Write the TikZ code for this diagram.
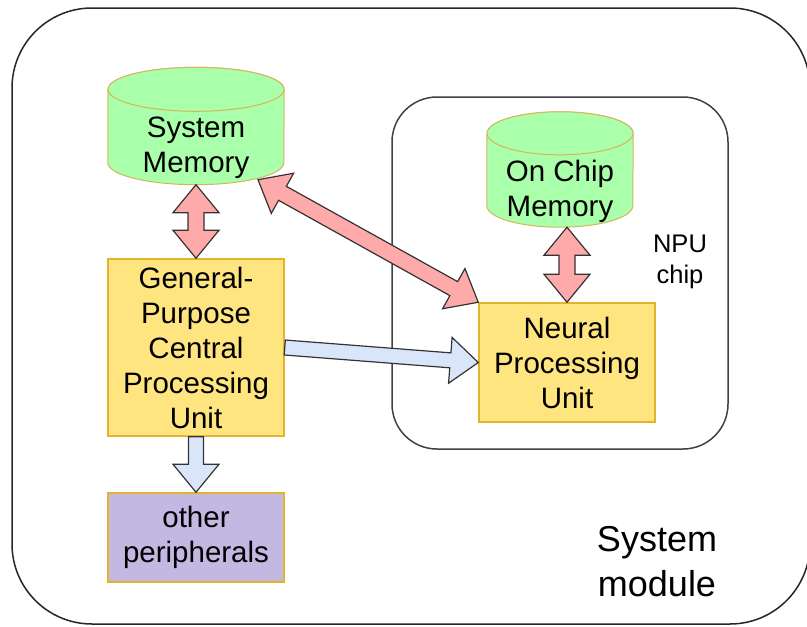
\documentclass[tikz,border=0pt]{standalone}
\usepackage{fontspec}
\setmainfont{Liberation Sans}
\usepackage{tikz}
\usetikzlibrary{positioning,calc,backgrounds}

\definecolor{memgreen}{HTML}{AAFFAA}
\definecolor{unityellow}{HTML}{FFE57F}
\definecolor{unitborder}{HTML}{E3B32A}
\definecolor{memborder}{HTML}{D9B45E}
\definecolor{periphpurple}{HTML}{C2B8E2}
\definecolor{linkpink}{HTML}{FFAAAA}
\definecolor{ctrlblue}{HTML}{D9E6FA}

% fat one-way arrow: style, from, to
\newcommand{\fatarrow}[3]{%
	\path ($(#3)!28pt!(#2)$) coordinate (hb);
	\draw[#1] ($(#2)!7.5pt!90:(#3)$) -- ($(hb)!7.5pt!-90:(#2)$) -- ($(hb)!23pt!-90:(#2)$) -- (#3)
		-- ($(hb)!23pt!90:(#2)$) -- ($(hb)!7.5pt!90:(#2)$) -- ($(#2)!7.5pt!-90:(#3)$) -- cycle;
}
% fat two-way arrow: style, from, to
\newcommand{\fatdoublearrow}[3]{%
	\path ($(#2)!28pt!(#3)$) coordinate (ha) ($(#3)!28pt!(#2)$) coordinate (hb);
	\draw[#1] (#2) -- ($(ha)!23pt!90:(#3)$) -- ($(ha)!8pt!90:(#3)$) -- ($(hb)!8pt!-90:(#2)$)
		-- ($(hb)!23pt!-90:(#2)$) -- (#3) -- ($(hb)!23pt!90:(#2)$) -- ($(hb)!8pt!90:(#2)$)
		-- ($(ha)!8pt!-90:(#3)$) -- ($(ha)!23pt!-90:(#3)$) -- cycle;
}
% drum behind a memory node: node, x radius, y radius
\newcommand{\drum}[3]{%
	\begin{scope}[on background layer]
		\draw[mem_drum] ($(#1.north west)+(0,-#3)$) -- ($(#1.south west)+(0,-#3)$)
			arc[start angle=180,end angle=0,x radius=#2,y radius=#3]
			-- ($(#1.north east)+(0,-#3)$)
			arc[start angle=0,end angle=-180,x radius=#2,y radius=#3] -- cycle;
		\draw[mem_drum] ($(#1.north)+(0,-#3)$) ellipse[x radius=#2,y radius=#3];
	\end{scope}
}

\begin{document}
\begin{tikzpicture}[x=1pt,y=-1pt,
		unit_box/.style={draw=unitborder,fill=unityellow,line width=1.5pt,align=center,inner sep=0pt,font=\fontsize{29.5}{35}\selectfont},
		mem_node/.style={align=center,inner sep=0pt,font=\fontsize{29.5}{35}\selectfont},
		mem_drum/.style={draw=memborder,fill=memgreen,line width=1pt},
		periph_box/.style={draw=unitborder,fill=periphpurple,line width=1.5pt,align=center,inner sep=0pt,font=\fontsize{29.5}{35}\selectfont},
		link_arrow/.style={fill=linkpink,draw=black!80,line width=1.2pt,line join=miter},
		ctrl_arrow/.style={fill=ctrlblue,draw=black!80,line width=1.2pt,line join=miter}
		]
		
		\useasboundingbox (0,0) rectangle (807,627);
		
		% frames
		\draw[line width=1.5pt,black!85,rounded corners=80pt] (12,8) rectangle (810,624);
		\draw[line width=1.5pt,black!75,rounded corners=45pt] (392,97) rectangle (728,449);
		
		\node[mem_node,minimum width=176pt,minimum height=73pt] (sysmem) at (196,148) {System\\Memory};
		\drum{sysmem}{88}{22}
		\node[unit_box,minimum width=176pt,minimum height=177pt] (cpu) at (196,347.5) {General-\\Purpose\\Central\\Processing\\Unit};
		\node[periph_box,minimum width=176pt,minimum height=89pt] (periph) at (196,537.5) {other\\peripherals};
		\node[mem_node,minimum width=146pt,minimum height=72pt] (onchip) at (560,191) {On Chip\\Memory};
		\drum{onchip}{73}{21.5}
		\node[unit_box,minimum width=176pt,minimum height=119pt] (npu) at (567,362.5) {Neural\\Processing\\Unit};
		
		\node[align=center,font=\fontsize{25.5}{31}\selectfont] (chiplabel) at (680,261.5) {NPU\\chip};
		\node[align=center,font=\fontsize{36}{45}\selectfont] (modlabel) at (657,561.5) {System\\module};
		
		\coordinate (sysmemrim) at ($(sysmem.south)+(62,-5)$);
		\fatdoublearrow{link_arrow}{sysmem.south}{cpu.north}
		\fatdoublearrow{link_arrow}{onchip.south -| npu.north}{npu.north}
		\fatdoublearrow{link_arrow}{sysmemrim}{npu.north west}
		\fatarrow{ctrl_arrow}{cpu.east}{npu.west}
		\fatarrow{ctrl_arrow}{cpu.south}{periph.north}
	\end{tikzpicture}
\end{document}
